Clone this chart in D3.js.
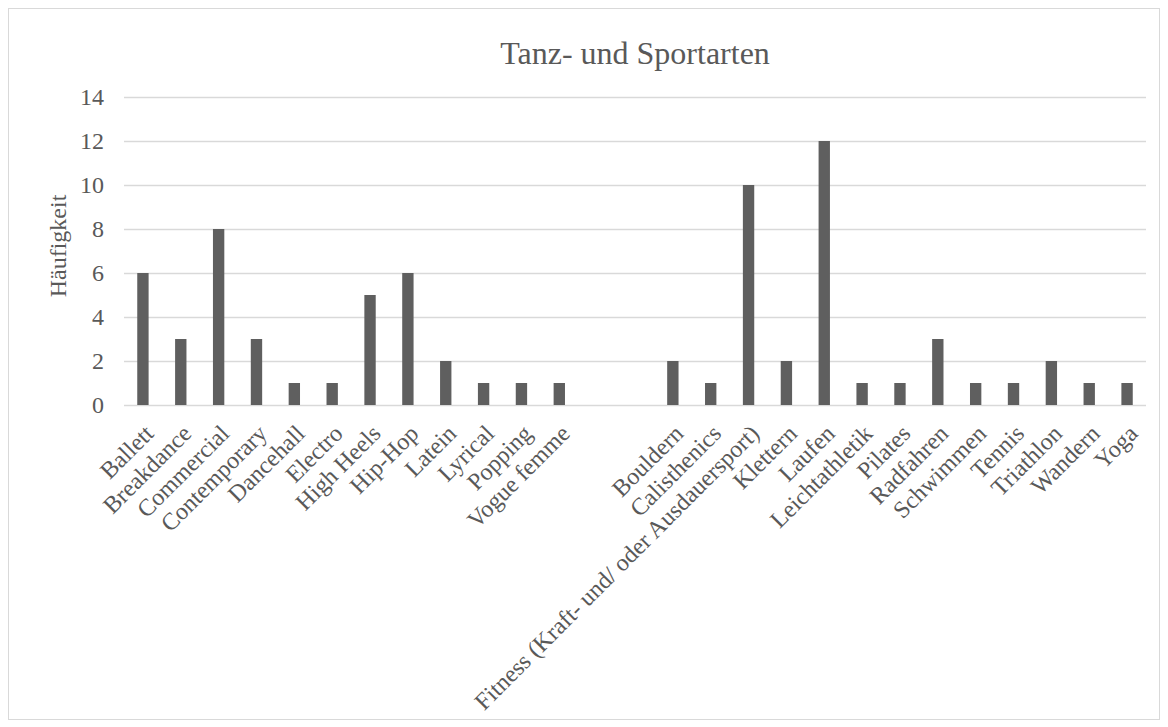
<!DOCTYPE html>
<html>
<head>
<meta charset="utf-8">
<script src="https://cdn.jsdelivr.net/npm/d3@7"></script>
<style>
  body { margin: 0; background: #fff; }
  svg text { font-family: "Liberation Serif", "Times New Roman", serif; fill: #595959; }
</style>
</head>
<body>
<div id="chart"></div>
<script>
// categories, two blank slots separate dance styles from sports
const categories = [
  'Ballett', 'Breakdance', 'Commercial', 'Contemporary', 'Dancehall', 'Electro',
  'High Heels', 'Hip-Hop', 'Latein', 'Lyrical', 'Popping', 'Vogue femme',
  '', '',
  'Bouldern', 'Calisthenics', 'Fitness (Kraft- und/ oder Ausdauersport)', 'Klettern',
  'Laufen', 'Leichtathletik', 'Pilates', 'Radfahren', 'Schwimmen', 'Tennis',
  'Triathlon', 'Wandern', 'Yoga'
];
const counts = [
  6, 3, 8, 3, 1, 1, 5, 6, 2, 1, 1, 1,
  null, null,
  2, 1, 10, 2, 12, 1, 1, 3, 1, 1, 2, 1, 1
];
const yTicks = [0, 2, 4, 6, 8, 10, 12, 14];
const title = 'Tanz- und Sportarten';
const yLabel = 'Häufigkeit';

const width = 1168, height = 727;
const margin = {top: 97, right: 22, bottom: 322, left: 124};
const innerW = width - margin.left - margin.right;
const innerH = height - margin.top - margin.bottom;

const svg = d3.select('#chart').append('svg')
  .attr('width', width)
  .attr('height', height);

// outer chart border
svg.append('rect')
  .attr('x', 8.5).attr('y', 8.5)
  .attr('width', 1151).attr('height', 711)
  .attr('fill', '#fff')
  .attr('stroke', '#d9d9d9');

const g = svg.append('g')
  .attr('transform', 'translate(' + margin.left + ',' + margin.top + ')');

const x = d3.scaleBand()
  .domain(categories.map((d, i) => i))
  .range([0, innerW])
  .paddingInner(0.7)
  .paddingOuter(0.35);

const y = d3.scaleLinear().domain([0, 14]).range([innerH, 0]);

// gridlines
g.selectAll('.grid')
  .data(yTicks)
  .enter()
  .append('line')
  .attr('class', 'grid')
  .attr('x1', 0).attr('x2', innerW)
  .attr('y1', d => Math.round(y(d)) + 0.5)
  .attr('y2', d => Math.round(y(d)) + 0.5)
  .attr('stroke', '#d9d9d9')
  .attr('stroke-width', 1.3);

// y tick labels
const yAxis = g.append('g')
  .call(d3.axisLeft(y).tickValues(yTicks).tickSize(0).tickPadding(20));
yAxis.select('.domain').remove();
yAxis.selectAll('text')
  .attr('font-family', '"Liberation Serif", serif')
  .attr('font-size', 24)
  .attr('fill', '#595959');

// bars
g.selectAll('.bar')
  .data(counts.map((v, i) => ({i: i, v: v})).filter(d => d.v !== null))
  .enter()
  .append('rect')
  .attr('class', 'bar')
  .attr('x', d => x(d.i))
  .attr('width', x.bandwidth())
  .attr('y', d => y(d.v))
  .attr('height', d => innerH - y(d.v))
  .attr('fill', '#5f5f5f');

// category labels, rotated
g.selectAll('.cat')
  .data(categories.map((c, i) => ({i: i, c: c})))
  .enter()
  .append('text')
  .attr('class', 'cat')
  .attr('transform', d => 'translate(' + (x(d.i) + x.bandwidth() / 2 + 12) + ',' + (innerH + 30) + ') rotate(-45)')
  .attr('text-anchor', 'end')
  .attr('font-size', 24)
  .text(d => d.c);

// title
svg.append('text')
  .attr('x', margin.left + innerW / 2)
  .attr('y', 64)
  .attr('text-anchor', 'middle')
  .attr('font-size', 32)
  .text(title);

// y axis label
svg.append('text')
  .attr('transform', 'translate(66,' + 246 + ') rotate(-90)')
  .attr('text-anchor', 'middle')
  .attr('font-size', 24)
  .text(yLabel);
</script>
</body>
</html>
